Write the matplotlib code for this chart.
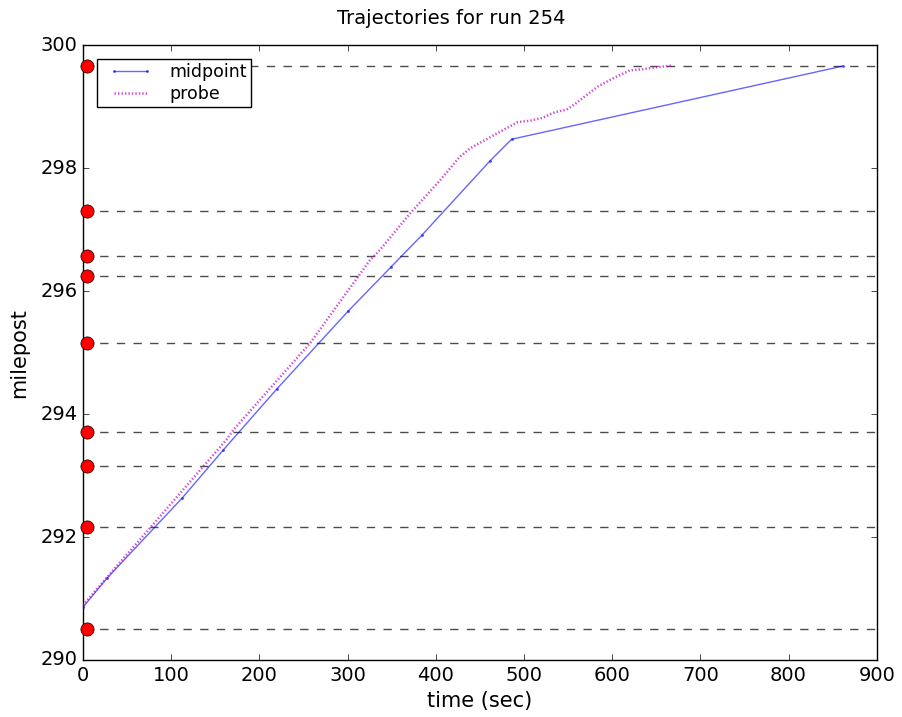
import matplotlib
matplotlib.use("Agg")
import matplotlib.pyplot as plt
from matplotlib.legend_handler import HandlerLine2D

plt.style.use('classic')
plt.rcParams['axes.formatter.useoffset'] = False

# Sensor mileposts (red dots + dashed lines)
sensor_mileposts = [299.66, 297.30, 296.57, 296.25, 295.16, 293.71, 293.16, 292.17, 290.51]
sensor_time = 5

# Midpoint trajectory
mid_time = [0, 27.2, 112.2, 158.7, 219.9, 300.4, 349.1, 384.3, 461, 486, 861.5]
mid_mile = [290.86, 291.33, 292.63, 293.41, 294.41, 295.67, 296.39, 296.91, 298.11, 298.47, 299.66]

# Probe trajectory
probe_time = [0, 37.8, 75.6, 113, 162.5, 170.4, 257.3, 325.3, 336.7, 370.7, 404.7, 427,
              438.7, 472.7, 493, 506.7, 521.4, 535, 548, 557.7, 571, 584, 601, 620, 635, 650, 669]
probe_mile = [290.89, 291.52, 292.14, 292.76, 293.58, 293.74, 295.15, 296.50, 296.67, 297.26,
              297.80, 298.18, 298.32, 298.59, 298.75, 298.77, 298.82, 298.91, 298.95, 299.04,
              299.19, 299.33, 299.46, 299.59, 299.61, 299.64, 299.67]

fig = plt.figure(figsize=(9.02, 7.17), dpi=100, facecolor='white')
ax = fig.add_axes([0.092, 0.0795, 0.880, 0.8575])

for m in sensor_mileposts:
    ax.axhline(m, color='k', linestyle=(0, (6, 6)), alpha=0.7, linewidth=1, zorder=1)
ax.plot([sensor_time] * len(sensor_mileposts), sensor_mileposts, 'o', color='red',
        markeredgecolor='k', markersize=9.5, clip_on=False, zorder=5)

l1, = ax.plot(mid_time, mid_mile, '.-', color='blue', alpha=0.6, markersize=3, linewidth=1,
              label='midpoint', zorder=3)
l2, = ax.plot(probe_time, probe_mile, linestyle=(0, (1, 1.5)), color='m', alpha=0.7,
              linewidth=1.8, label='probe', zorder=3)

ax.set_xlim(0, 900)
ax.set_ylim(290, 300)
ax.set_xticks(range(0, 901, 100))
ax.set_yticks(range(290, 301, 2))
ax.tick_params(labelsize=14)
ax.set_xlabel('time (sec)', fontsize=15)
ax.set_ylabel('milepost', fontsize=15, labelpad=8)
fig.suptitle('Trajectories for run 254', fontsize=14, x=0.5, y=0.988, va='top')

hm = {l1: HandlerLine2D(xpad=0.45), l2: HandlerLine2D(xpad=0.45)}
ax.legend(loc='upper left', fontsize=12.5, handlelength=2.95, handletextpad=0.95,
          borderaxespad=0.8, borderpad=0.25, labelspacing=0.2, handler_map=hm)

fig.savefig('out.png', dpi=100, facecolor='white')
